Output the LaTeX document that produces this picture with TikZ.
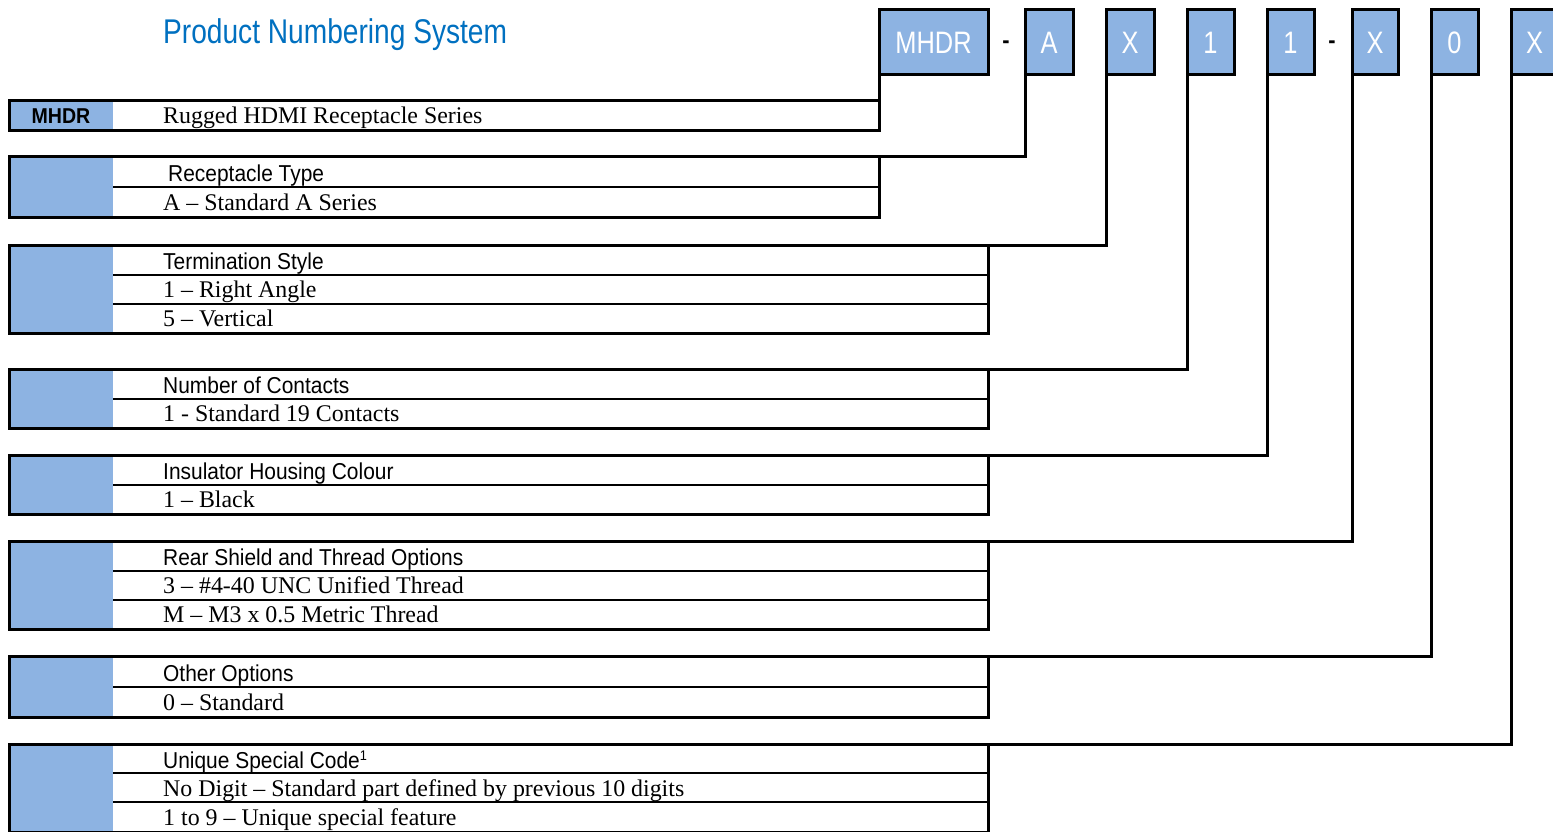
\documentclass[tikz,border=0pt]{standalone}
\usepackage{fontspec}
\setmainfont{Liberation Serif}
\newfontfamily\headfont[FakeStretch=0.91]{Liberation Sans}
\newfontfamily\narrowfont[FakeStretch=0.82]{Liberation Sans}
\usepackage{tikz}
\usepackage{xcolor}
\definecolor{cellblue}{HTML}{8DB3E2}
\definecolor{titleblue}{HTML}{0070C0}

\tikzset{
  codebox/.style={draw, line width=3pt, fill=cellblue, outer sep=0pt, anchor=north west,
    minimum height=65pt, text=white, font=\narrowfont\fontsize{31}{31}\selectfont},
  rowbox/.style={draw, line width=3pt, outer sep=0pt, anchor=north west, inner sep=0pt,
    path picture={\fill[cellblue] (path picture bounding box.north west) rectangle
      ([xshift=104pt]path picture bounding box.south west);}},
  divline/.style={line width=2pt},
  link/.style={line width=3pt},
  headtext/.style={anchor=base west, inner sep=0pt, font=\headfont\fontsize{23}{23}\selectfont},
  bodytext/.style={anchor=base west, inner sep=0pt, font=\fontsize{23.9}{23.9}\selectfont}
}

\begin{document}
\begin{tikzpicture}[x=1pt,y=-1pt]
\useasboundingbox (0,0) rectangle (1553,832);

\node (title) at (163,44) [anchor=base west, inner sep=0pt, text=titleblue, font=\narrowfont\fontsize{34.3}{34.3}\selectfont] {Product Numbering System};

\node[codebox, minimum width=109pt] (cMHDR) at (879,10) {MHDR};
\node (dash1) at (1006,45) [font=\headfont\bfseries\fontsize{24}{24}\selectfont] {-};
\node[codebox, minimum width=48pt] (cA) at (1025,10) {A};
\node[codebox, minimum width=48pt] (cStyle) at (1106,10) {X};
\node[codebox, minimum width=47pt] (cContacts) at (1187,10) {1};
\node[codebox, minimum width=47pt] (cColour) at (1267,10) {1};
\node (dash2) at (1332,45) [font=\headfont\bfseries\fontsize{24}{24}\selectfont] {-};
\node[codebox, minimum width=46pt] (cThread) at (1352,10) {X};
\node[codebox, minimum width=47pt] (cOptions) at (1431,10) {0};
\node[codebox, minimum width=47pt] (cSpecial) at (1511,10) {X};

\node[rowbox, minimum width=870pt, minimum height=30pt] (r1) at (9,101) {};
\node[rowbox, minimum width=870pt, minimum height=60pt] (r2) at (9,157) {};
\node[rowbox, minimum width=979pt, minimum height=88pt] (r3) at (9,245) {};
\node[rowbox, minimum width=979pt, minimum height=59pt] (r4) at (9,369) {};
\node[rowbox, minimum width=979pt, minimum height=59pt] (r5) at (9,455) {};
\node[rowbox, minimum width=979pt, minimum height=88pt] (r6) at (9,541) {};
\node[rowbox, minimum width=979pt, minimum height=61pt] (r7) at (9,656) {};
\node[rowbox, minimum width=979pt, minimum height=88pt] (r8) at (9,744) {};

\draw[divline] (113,187) -- (879,187);
\draw[divline] (113,275) -- (988,275);
\draw[divline] (113,304) -- (988,304);
\draw[divline] (113,399) -- (988,399);
\draw[divline] (113,485) -- (988,485);
\draw[divline] (113,571) -- (988,571);
\draw[divline] (113,600) -- (988,600);
\draw[divline] (113,687) -- (988,687);
\draw[divline] (113,773) -- (988,773);
\draw[divline] (113,802) -- (988,802);

\draw[link] (cMHDR.south west) -- (r1.north east);
\draw[link] (cA.south west) |- (r2.north east);
\draw[link] (cStyle.south west) |- (r3.north east);
\draw[link] (cContacts.south west) |- (r4.north east);
\draw[link] (cColour.south west) |- (r5.north east);
\draw[link] (cThread.south west) |- (r6.north east);
\draw[link] (cOptions.south west) |- (r7.north east);
\draw[link] (cSpecial.south west) |- (r8.north east);

\node (series) at (61,124) [anchor=base, inner sep=0pt, font=\headfont\bfseries\fontsize{21.5}{21.5}\selectfont] {MHDR};
\node[bodytext] (seriesname) at (163,124) {Rugged HDMI Receptacle Series};

\node[headtext] (typehead) at (168,182) {Receptacle Type};
\node[bodytext] (typeA) at (163,210) {A -- Standard A Series};

\node[headtext] (stylehead) at (163,269) {Termination Style};
\node[bodytext] (style1) at (163,297) {1 -- Right Angle};
\node[bodytext] (style5) at (163,326) {5 -- Vertical};

\node[headtext] (contactshead) at (163,393) {Number of Contacts};
\node[bodytext] (contacts1) at (163,421) {1 - Standard 19 Contacts};

\node[headtext] (colourhead) at (163,479) {Insulator Housing Colour};
\node[bodytext] (colour1) at (163,507) {1 -- Black};

\node[headtext] (threadhead) at (163,565) {Rear Shield and Thread Options};
\node[bodytext] (thread3) at (163,593) {3 -- \#4-40 UNC Unified Thread};
\node[bodytext] (threadM) at (163,622) {M -- M3 x 0.5 Metric Thread};

\node[headtext] (optionshead) at (163,681) {Other Options};
\node[bodytext] (options0) at (163,710) {0 -- Standard};

\node[headtext] (specialhead) at (163,768) {Unique Special Code{\fontsize{14}{14}\selectfont\raisebox{8pt}{1}}};
\node[bodytext] (specialnone) at (163,796) {No Digit -- Standard part defined by previous 10 digits};
\node[bodytext] (special19) at (163,825) {1 to 9 -- Unique special feature};

\end{tikzpicture}
\end{document}
